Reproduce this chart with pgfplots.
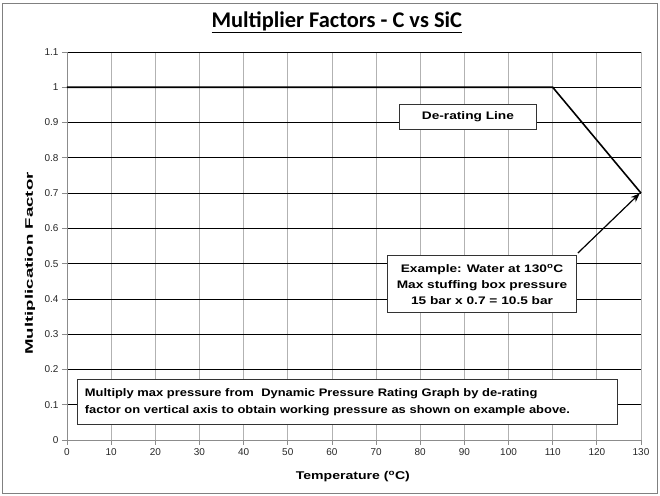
\documentclass[border=0pt]{standalone}
\usepackage{pgfplots}
\pgfplotsset{compat=1.18}
\usepackage{fontspec}
\setmainfont{Liberation Sans}
\newfontfamily\calibri{Carlito}
\newfontfamily\wf[FakeStretch=1.25]{Liberation Sans}
\newfontfamily\wfb[FakeStretch=1.18]{Liberation Sans}
\newfontfamily\wfy[FakeStretch=1.7]{Liberation Sans}
\usetikzlibrary{arrows.meta}
\begin{document}
\begin{tikzpicture}
\begin{axis}[
  scale only axis, width=574bp, height=388bp,
  xmin=0, xmax=130, ymin=0, ymax=1.1,
  xtick={0,10,...,130},
  ytick={0,0.1,0.2,0.3,0.4,0.5,0.6,0.7,0.8,0.9,1,1.1},
  yticklabels={0,0.1,0.2,0.3,0.4,0.5,0.6,0.7,0.8,0.9,1,1.1},
  axis x line*=bottom, axis y line*=left,
  axis line style={black!45, line width=0.8pt},
  xmajorgrids, ymajorgrids,
  x grid style={black!30, line width=0.8pt},
  y grid style={black, line width=0.7pt},
  tick align=outside, major tick length=5bp,
  tick style={black!45, line width=0.8pt},
  ticklabel style={font=\fontsize{10}{11}\selectfont, text=black!85},
  /pgf/number format/assume math mode=true,
  clip=false,
]
\path (rel axis cs:-0.11672,-0.14433) rectangle (rel axis cs:1.0331,1.1340);
\draw[black!50, line width=0.8pt] (rel axis cs:-0.11324,-0.13660) rectangle (rel axis cs:1.02787,1.12629);

\addplot[black, line width=1.6pt] coordinates {(0,1) (110,1) (130,0.7)};

\node at (rel axis cs:0.470,1.077) {\calibri\bfseries\fontsize{22.5}{26}\selectfont\underline{Multiplier Factors - C vs SiC}};
\node[rotate=90] at (rel axis cs:-0.0645,0.455) {\wfy\bfseries\fontsize{11}{13}\selectfont Multiplication Factor};
\node at (rel axis cs:0.498,-0.093) {\wf\bfseries\fontsize{11.3}{13}\selectfont Temperature (\textsuperscript{o}C)};

\node[draw=black!80, fill=white, line width=0.8pt, minimum width=137bp, minimum height=25bp, font=\wf\bfseries\fontsize{11}{13}\selectfont]
  at (axis cs:90.8,0.916) {De-rating Line};

\draw[black, line width=1.2pt, -{Stealth[length=9pt,width=7pt]}] (axis cs:115.7,0.530) -- (axis cs:129.7,0.699);

\node[draw=black!80, fill=white, line width=0.8pt, minimum width=189bp, minimum height=57bp, align=center,
  font=\wf\bfseries\fontsize{11}{16}\selectfont]
  at (axis cs:94,0.442) {Example: Water at 130\textsuperscript{o}C\\Max stuffing box pressure\\15 bar x 0.7 = 10.5 bar};

\node[draw=black!80, fill=white, line width=0.8pt, minimum width=540bp, minimum height=45bp, align=left, text width=524bp,
  font=\wfb\bfseries\fontsize{11}{17}\selectfont]
  at (axis cs:63.4,0.108) {Multiply max pressure from\ \ Dynamic Pressure Rating Graph by de-rating\\factor on vertical axis to obtain working pressure as shown on example above.};
\end{axis}
\end{tikzpicture}
\end{document}
